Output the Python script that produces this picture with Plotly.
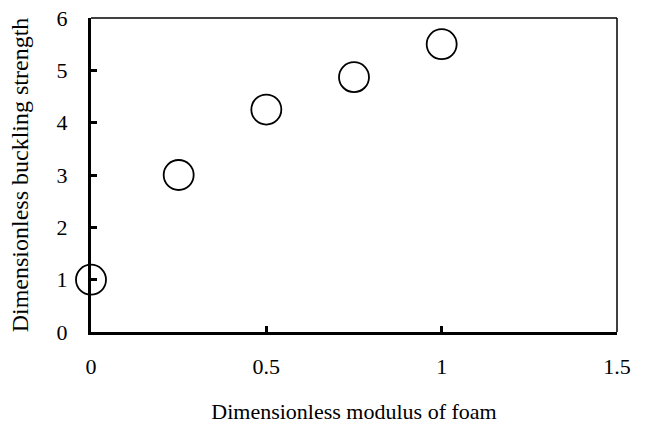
import plotly.graph_objects as go

# Dimensionless foam modulus vs. buckling strength
modulus = [0.0, 0.25, 0.5, 0.75, 1.0]
strength = [1.0, 3.0, 4.25, 4.87, 5.5]

x_ticks = [0, 0.5, 1, 1.5]
x_tick_labels = ["0", "0.5", "1", "1.5"]
y_ticks = [0, 1, 2, 3, 4, 5, 6]
y_tick_labels = ["0", "1", "2", "3", "4", "5", "6"]

serif = "Liberation Serif, Times New Roman, serif"

fig = go.Figure()
fig.add_trace(go.Scatter(
    x=modulus, y=strength, mode="markers",
    marker=dict(symbol="circle-open", size=30, color="black",
                line=dict(width=1.8, color="black")),
    cliponaxis=False, showlegend=False,
))

fig.update_layout(
    width=648, height=426,
    margin=dict(l=91, r=31, t=18, b=94),
    paper_bgcolor="white", plot_bgcolor="white",
    font=dict(family=serif, size=22, color="black"),
    xaxis=dict(
        range=[0, 1.5], tickvals=x_ticks, ticktext=x_tick_labels,
        showgrid=False, zeroline=False, automargin=False,
        showline=True, linecolor="black", linewidth=3,
        ticks="inside", ticklen=6, tickwidth=3, tickcolor="black",
        ticklabelstandoff=13, tickfont=dict(size=22),
        title=dict(text="Dimensionless modulus of foam", standoff=26,
                   font=dict(family=serif, size=22)),
    ),
    yaxis=dict(
        range=[0, 6], tickvals=y_ticks, ticktext=y_tick_labels,
        showgrid=False, zeroline=False, automargin=False,
        showline=True, linecolor="black", linewidth=3,
        ticks="inside", ticklen=6, tickwidth=3, tickcolor="black",
        ticklabelstandoff=16, tickfont=dict(size=22),
        title=dict(text="Dimensionless buckling strength", standoff=22,
                   font=dict(family=serif, size=24)),
    ),
    shapes=[
        dict(type="line", xref="paper", yref="paper", x0=0, x1=1, y0=1, y1=1,
             line=dict(color="black", width=1.5)),
        dict(type="line", xref="paper", yref="paper", x0=1, x1=1, y0=0, y1=1,
             line=dict(color="black", width=1.5)),
    ],
)

fig.write_html("out.html")
